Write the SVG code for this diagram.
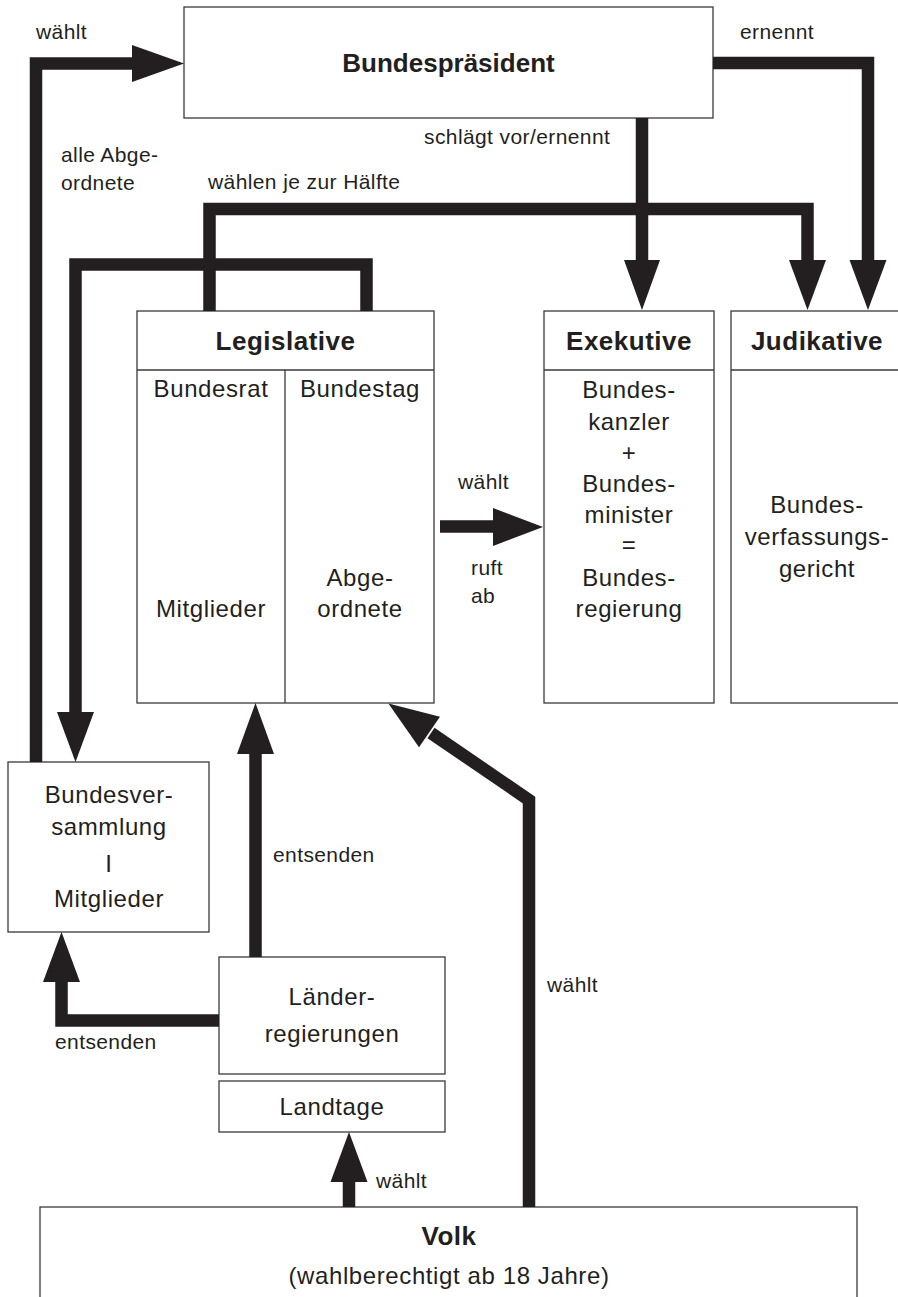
<svg xmlns="http://www.w3.org/2000/svg" width="898" height="1297" viewBox="0 0 898 1297">
<style>
  .box { fill: #ffffff; stroke: #3a3a3a; stroke-width: 1.3; }
  .div { stroke: #3a3a3a; stroke-width: 1.3; fill: none; }
  .t { font-family: "Liberation Sans", Arial, sans-serif; font-size: 24px; letter-spacing: 0.6px; fill: #231f20; text-anchor: middle; }
  .b { font-family: "Liberation Sans", Arial, sans-serif; font-size: 26px; font-weight: bold; letter-spacing: 0.5px; fill: #231f20; text-anchor: middle; }
  .l { font-family: "Liberation Sans", Arial, sans-serif; font-size: 21px; letter-spacing: 0.4px; fill: #231f20; }
  .shaft { fill: none; stroke: #231f20; stroke-width: 12.5; stroke-linejoin: miter; stroke-miterlimit: 10; }
  .head { fill: #231f20; stroke: none; }
</style>

<g id="bundespraesident">
  <rect class="box" x="184" y="7" width="529" height="111"/>
  <text class="b" x="448.5" y="72" style="letter-spacing:0px">Bundespräsident</text>
</g>

<g id="legislative">
  <rect class="box" x="137" y="311" width="297" height="392"/>
  <line class="div" x1="137" y1="370" x2="434" y2="370"/>
  <line class="div" x1="285" y1="370" x2="285" y2="703"/>
  <text class="b" x="285.5" y="350">Legislative</text>
  <text class="t" x="211" y="397">Bundesrat</text>
  <text class="t" x="360" y="397">Bundestag</text>
  <text class="t" x="211" y="617">Mitglieder</text>
  <text class="t" x="360" y="586">Abge-</text>
  <text class="t" x="360" y="617">ordnete</text>
</g>

<g id="exekutive">
  <rect class="box" x="544" y="311" width="170" height="392"/>
  <line class="div" x1="544" y1="370" x2="714" y2="370"/>
  <text class="b" x="629" y="350">Exekutive</text>
  <text class="t" x="629" y="398">Bundes-</text>
  <text class="t" x="629" y="430">kanzler</text>
  <text class="t" x="629" y="461">+</text>
  <text class="t" x="629" y="492">Bundes-</text>
  <text class="t" x="629" y="523">minister</text>
  <text class="t" x="629" y="553">=</text>
  <text class="t" x="629" y="586">Bundes-</text>
  <text class="t" x="629" y="617">regierung</text>
</g>

<g id="judikative">
  <rect class="box" x="731" y="311" width="172" height="392"/>
  <line class="div" x1="731" y1="370" x2="903" y2="370"/>
  <text class="b" x="817" y="350">Judikative</text>
  <text class="t" x="817" y="513">Bundes-</text>
  <text class="t" x="817" y="545">verfassungs-</text>
  <text class="t" x="817" y="577">gericht</text>
</g>

<g id="bundesversammlung">
  <rect class="box" x="8" y="762" width="201" height="170"/>
  <text class="t" x="109" y="803">Bundesver-</text>
  <text class="t" x="109" y="835">sammlung</text>
  <text class="t" x="109" y="872">I</text>
  <text class="t" x="109" y="907">Mitglieder</text>
</g>

<g id="laenderregierungen">
  <rect class="box" x="219" y="957" width="226" height="117"/>
  <text class="t" x="332" y="1005">Länder-</text>
  <text class="t" x="332" y="1042">regierungen</text>
</g>

<g id="landtage">
  <rect class="box" x="219" y="1081" width="226" height="51"/>
  <text class="t" x="332" y="1115">Landtage</text>
</g>

<g id="volk">
  <rect class="box" x="40" y="1207" width="817" height="110"/>
  <text class="b" x="449" y="1245">Volk</text>
  <text class="t" x="449" y="1284">(wahlberechtigt ab 18 Jahre)</text>
</g>

<g id="connectors">
  <g id="e-bv-bp">
    <path class="shaft" d="M36,762 V63.5 H134"/>
    <polygon class="head" points="132,45 184,63.5 132,82"/>
    <text class="l" x="36" y="39">wählt</text>
  </g>
  <g id="e-bt-bv">
    <path class="shaft" d="M366.5,311 V264.5 H75.5 V714"/>
    <polygon class="head" points="57,712 94,712 75.5,762"/>
    <text class="l" x="61" y="162">alle Abge-</text>
    <text class="l" x="61" y="190">ordnete</text>
  </g>
  <g id="e-br-judikative">
    <path class="shaft" d="M209.5,311 V209 H807.5 V262"/>
    <polygon class="head" points="789,260 826,260 807.5,310"/>
    <text class="l" x="208" y="189">wählen je zur Hälfte</text>
  </g>
  <g id="e-bp-exekutive">
    <path class="shaft" d="M642,118 V262"/>
    <polygon class="head" points="624,260 660,260 642,310"/>
    <text class="l" x="424" y="144">schlägt vor/ernennt</text>
  </g>
  <g id="e-bp-judikative">
    <path class="shaft" d="M713,63 H868 V262"/>
    <polygon class="head" points="849.5,260 886.5,260 868,310"/>
    <text class="l" x="740" y="39">ernennt</text>
  </g>
  <g id="e-bt-exekutive">
    <path class="shaft" d="M440,526.5 H495"/>
    <polygon class="head" points="493,508 543,527 493,546"/>
    <text class="l" x="458" y="489">wählt</text>
    <text class="l" x="471" y="575">ruft</text>
    <text class="l" x="471" y="603">ab</text>
  </g>
  <g id="e-lr-legislative">
    <path class="shaft" d="M255.5,957 V752"/>
    <polygon class="head" points="237,754 274,754 255.5,703"/>
    <text class="l" x="273" y="862">entsenden</text>
  </g>
  <g id="e-lr-bv">
    <path class="shaft" d="M219,1020.5 H61.5 V980"/>
    <polygon class="head" points="43,982 80,982 61.5,932"/>
    <text class="l" x="55" y="1049">entsenden</text>
  </g>
  <g id="e-volk-landtage">
    <path class="shaft" d="M349,1207 V1180"/>
    <polygon class="head" points="330.5,1182 367.5,1182 349,1132"/>
    <text class="l" x="376" y="1188">wählt</text>
  </g>
  <g id="e-volk-bundestag">
    <path class="shaft" d="M529,1207 V800 L431,733"/>
    <polygon class="head" points="440,716.8 388.4,703.6 419,747.2"/>
    <text class="l" x="547" y="992">wählt</text>
  </g>
</g>
</svg>
